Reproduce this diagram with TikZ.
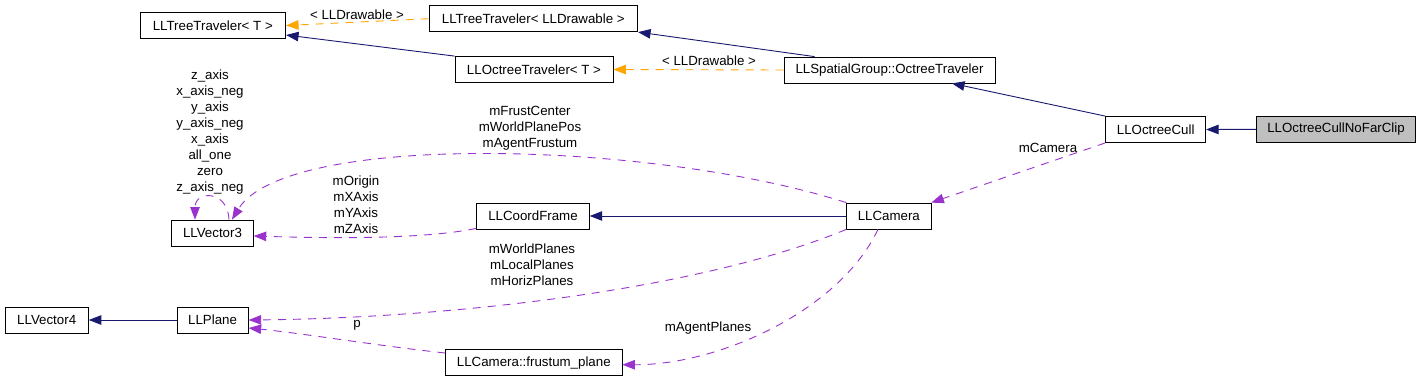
\documentclass[tikz,border=0pt]{standalone}
\usepackage{fontspec}
\setmainfont{Liberation Sans}
\usetikzlibrary{arrows.meta,calc}
\definecolor{navyedge}{HTML}{191970}
\definecolor{orangeedge}{HTML}{FFA500}
\definecolor{purpleedge}{HTML}{9A32CD}
\definecolor{greyfill}{HTML}{BFBFBF}
\begin{document}
\begin{tikzpicture}[x=1pt,y=-1pt,
  font=\fontsize{13.3}{16}\selectfont,
  cls/.style={draw=black, line width=0.8pt, minimum height=26pt, inner sep=0pt, anchor=center},
  tipstyle/.style={-{Triangle[length=12.5pt,width=9.5pt]}},
  inh/.style={draw=navyedge, line width=0.9pt, tipstyle},
  tmpl/.style={draw=orangeedge, line width=0.9pt, dash pattern=on 8pt off 7pt, tipstyle},
  usage/.style={draw=purpleedge, line width=0.9pt, dash pattern=on 8pt off 7pt, tipstyle},
  lbl/.style={align=center, inner sep=0pt, text=black}]
\useasboundingbox (0,0) rectangle (1421,381);

% classes
\node[cls, minimum width=145.7pt] (tt)  at (212.8,25.5) {LLTreeTraveler< T >};
\node[cls, minimum width=208.7pt] (ttd) at (533.3,18.7) {LLTreeTraveler< LLDrawable >};
\node[cls, minimum width=158pt]   (ot)  at (534,69.5)   {LLOctreeTraveler< T >};
\node[cls, minimum width=211pt]   (sg)  at (889.5,70)   {LLSpatialGroup::OctreeTraveler};
\node[cls, minimum width=100pt]   (oc)  at (1155.7,129.5) {LLOctreeCull};
\node[cls, minimum width=159.4pt, fill=greyfill] (ocn) at (1336,129.3) {LLOctreeCullNoFarClip};
\node[cls, minimum width=81.6pt]  (v3)  at (212.5,233)  {LLVector3};
\node[cls, minimum width=112.6pt] (cf)  at (533,216)    {LLCoordFrame};
\node[cls, minimum width=84.3pt]  (cam) at (888.8,216)  {LLCamera};
\node[cls, minimum width=83.4pt]  (v4)  at (46.7,320)   {LLVector4};
\node[cls, minimum width=71.3pt]  (pl)  at (212.6,320)  {LLPlane};
\node[cls, minimum width=176.3pt] (fp)  at (533.8,362.7) {LLCamera::frustum\_plane};

% template instantiations
\draw[tmpl] (ttd.west) -- (tt.east);
\node[lbl] (l1) at (357,15) {< LLDrawable >};
\draw[tmpl] (sg.west) -- (ot.east);
\node[lbl] (l2) at (709,61) {< LLDrawable >};

% inheritance
\draw[inh] (ot.north west) -- ($(tt.east)+(0,9.5)$);
\draw[inh] ($(sg.north west)+(31,0)$) -- (ttd.south east);
\draw[inh] (oc.north west) -- ($(sg.south)+(62.5,0)$);
\draw[inh] (ocn.west) -- (oc.east);
\draw[inh] (cam.west) -- (cf.east);
\draw[inh] (pl.west) -- (v4.east);

% usage
\draw[usage] (oc.south west) -- (cam.north east);
\node[lbl] (l3) at (1048,148) {mCamera};

\draw[usage] (cam.north west) .. controls (650,140) and (285,132) .. ($(v3.north)+(19.5,0)$);
\node[lbl] (l4) at (530,128) {mFrustCenter\\mWorldPlanePos\\mAgentFrustum};

\draw[usage] ($(v3.north)+(16.5,0)$) .. controls (228,190) and (195,190) .. ($(v3.north)+(-17.5,0)$);
\node[lbl] (l5) at (210,132) {z\_axis\\x\_axis\_neg\\y\_axis\\y\_axis\_neg\\x\_axis\\all\_one\\zero\\z\_axis\_neg};

\draw[usage] ($(cf.south west)+(0,-1)$) .. controls (420,240) and (320,238) .. ($(v3.east)+(0,3)$);
\node[lbl] (l6) at (356,204.5) {mOrigin\\mXAxis\\mYAxis\\mZAxis};

\draw[usage] (cam.south west) .. controls (700,290) and (450,318) .. (pl.east);
\node[lbl] (l7) at (532,264.5) {mWorldPlanes\\mLocalPlanes\\mHorizPlanes};

\draw[usage] ($(fp.north west)+(0,3.7)$) .. controls (380,346) and (300,333) .. ($(pl.east)+(0,8)$);
\node[lbl] (l8) at (357,325) {p};

\draw[usage] ($(cam.south)+(-10.8,0)$) .. controls (840,310) and (720,365) .. ($(fp.east)+(0,2)$);
\node[lbl] (l9) at (708,328) {mAgentPlanes};
\end{tikzpicture}
\end{document}
